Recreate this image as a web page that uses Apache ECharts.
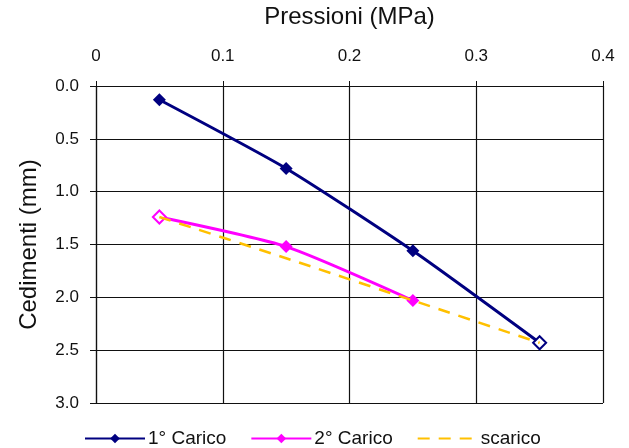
<!DOCTYPE html>
<html>
<head>
<meta charset="utf-8">
<script src="https://cdn.jsdelivr.net/npm/echarts@6/dist/echarts.min.js"></script>
<style>
  html, body { margin: 0; padding: 0; background: #fff; }
  #chart { width: 629px; height: 448px; }
</style>
</head>
<body>
<div id="chart"></div>
<script>
// Pressure steps (MPa) and settlements (mm)
const pressures = [0.05, 0.15, 0.25, 0.35];
const carico1 = [0.13, 0.78, 1.56, 2.43];
const carico2 = [1.24, 1.52, 2.03];
const scarico = [1.24, 1.63, 2.03, 2.43];

const xTicks = { min: 0, max: 0.4, step: 0.1 };
const yTicks = { min: 0, max: 3, step: 0.5 };

const FONT = 'Liberation Sans, Arial, sans-serif';

function pairs(xs, ys) {
  return ys.map((y, i) => [xs[i], y]);
}

// points where the unloading curve meets the loading curves show hollow markers
const c1Data = pairs(pressures, carico1).map((p, i) =>
  i === carico1.length - 1
    ? { value: p, itemStyle: { color: '#fff', borderColor: '#000080', borderWidth: 2 } }
    : p);
const c2Data = pairs(pressures, carico2).map((p, i) =>
  i === 0
    ? { value: p, itemStyle: { color: '#fff', borderColor: '#ff00ff', borderWidth: 2 } }
    : p);

const chart = echarts.init(document.getElementById('chart'), null, { renderer: 'canvas' });
chart.setOption({
  animation: false,
  backgroundColor: '#fff',
  textStyle: { fontFamily: FONT },
  grid: { left: 96, right: 26, top: 83, bottom: 45, containLabel: false },
  xAxis: {
    type: 'value',
    position: 'top',
    min: xTicks.min, max: xTicks.max, interval: xTicks.step,
    name: 'Pressioni (MPa)',
    nameLocation: 'middle',
    nameGap: 57,
    nameTextStyle: { fontSize: 24, color: '#111', fontFamily: FONT },
    axisLine: { show: true, lineStyle: { color: '#111', width: 1.2 } },
    axisTick: { show: true, length: 5, lineStyle: { color: '#111' } },
    axisLabel: { fontSize: 17, color: '#111', margin: 21, fontFamily: FONT,
      formatter: v => (Math.round(v * 10) / 10).toString() },
    splitLine: { show: true, lineStyle: { color: '#111', width: 1.2 } }
  },
  yAxis: {
    type: 'value',
    inverse: true,
    min: yTicks.min, max: yTicks.max, interval: yTicks.step,
    name: 'Cedimenti (mm)',
    nameLocation: 'middle',
    nameGap: 55,
    nameRotate: 90,
    nameTextStyle: { fontSize: 24, color: '#111', fontFamily: FONT },
    axisLine: { show: true, lineStyle: { color: '#111', width: 1.2 } },
    axisTick: { show: true, length: 6, lineStyle: { color: '#111' } },
    axisLabel: { fontSize: 17, color: '#111', margin: 17, fontFamily: FONT,
      formatter: v => v.toFixed(1) },
    splitLine: { show: true, lineStyle: { color: '#111', width: 1.2 } }
  },
  legend: {
    top: 424,
    left: 79,
    itemWidth: 60,
    itemHeight: 12,
    itemGap: 24,
    textStyle: { fontSize: 19, color: '#111', fontFamily: FONT, padding: [0, 0, 0, -2] },
    data: [
      '1° Carico',
      '2° Carico',
      { name: 'scarico', itemStyle: { opacity: 0 } }
    ]
  },
  series: [
    {
      name: 'scarico',
      type: 'line',
      data: pairs(pressures, scarico),
      symbol: 'none',
      smooth: 0.2,
      z: 3,
      lineStyle: { color: '#ffc000', width: 2.5, type: [12, 9] },
      itemStyle: { color: '#ffc000' }
    },
    {
      name: '1° Carico',
      type: 'line',
      data: c1Data,
      symbol: 'diamond',
      symbolSize: 13,
      smooth: 0.2,
      z: 2,
      lineStyle: { color: '#000080', width: 3 },
      itemStyle: { color: '#000080' }
    },
    {
      name: '2° Carico',
      type: 'line',
      data: c2Data,
      symbol: 'diamond',
      symbolSize: 13,
      smooth: 0.2,
      z: 2,
      lineStyle: { color: '#ff00ff', width: 3 },
      itemStyle: { color: '#ff00ff' }
    }
  ]
});
</script>
</body>
</html>
